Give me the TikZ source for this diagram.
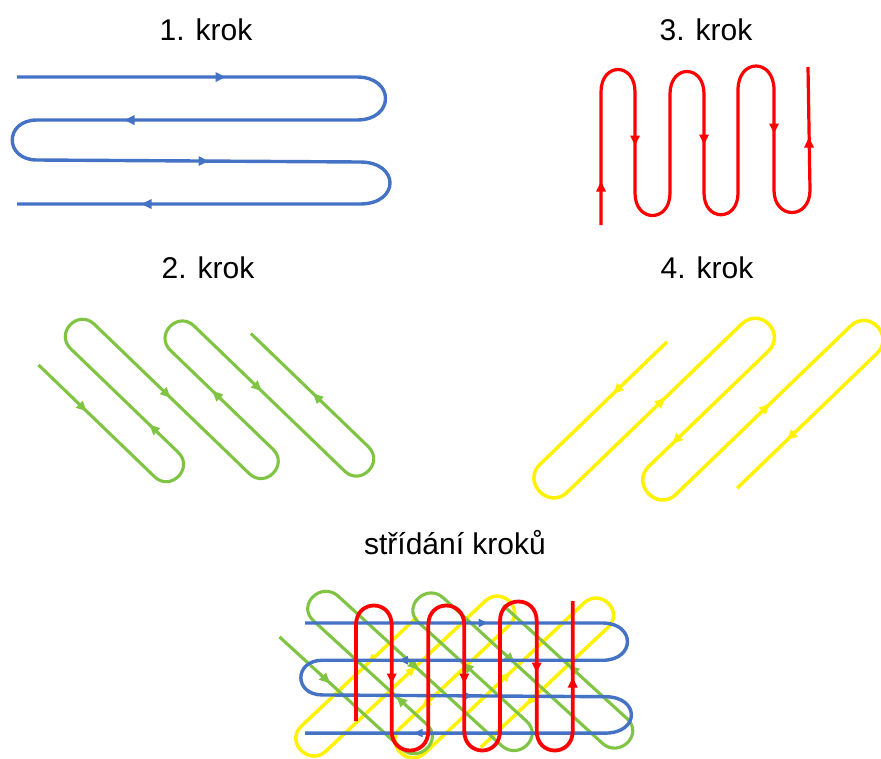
\documentclass[tikz,border=0pt]{standalone}
\usepackage{fontspec}
\setmainfont{Liberation Sans}
\definecolor{blueC}{RGB}{68,114,196}
\definecolor{greenC}{RGB}{128,196,68}
\definecolor{redC}{RGB}{255,0,0}
\definecolor{yellowC}{RGB}{255,242,0}
\tikzset{
  bluestroke/.style={draw=blueC, line width=3.4pt, line join=round},
  greenstroke/.style={draw=greenC, line width=3.1pt, line join=round},
  redstroke/.style={draw=redC, line width=3.2pt, line join=round},
  yellowstroke/.style={draw=yellowC, line width=3.5pt, line join=round},
  lbl/.style={anchor=base, inner sep=0pt, font=\fontsize{30}{36}\selectfont},
}
% small filled direction marker: colour, x, y, angle
\newcommand\arrowhead[4]{\fill[#1, shift={(#2,#3)}, rotate=#4] (5.5,0) -- (-4.5,5) -- (-4.5,-5) -- cycle;}

% step 1: horizontal meander
\newcommand\bluewave{%
  \draw[bluestroke] (17,77) -- (357,77) .. controls (395,77) and (395,120) .. (357,120)
    -- (37,120) .. controls (4,120) and (4,160) .. (37,160)
    -- (360,162) .. controls (400,162) and (400,204) .. (360,204) -- (17,204);
  \arrowhead{blueC}{220}{77}{0}
  \arrowhead{blueC}{130}{120}{180}
  \arrowhead{blueC}{203}{161}{0}
  \arrowhead{blueC}{147}{204}{180}}

% step 2: diagonal meander, drawn in a frame along the strokes
\newcommand\greenwave{%
  \begin{scope}[x={(0.72pt,-0.694pt)}, y={(-0.694pt,-0.72pt)}]
    \draw[greenstroke] (281,236) -- (442,236) .. controls (464.7,236) and (464.7,202) .. (442,202)
      -- (293,202) .. controls (270.3,202) and (270.3,168) .. (293,168)
      -- (508,168) .. controls (530.7,168) and (530.7,134) .. (508,134)
      -- (366,134) .. controls (343.3,134) and (343.3,100) .. (366,100)
      -- (575,100) .. controls (597.7,100) and (597.7,66) .. (575,66) -- (412,66);
    \arrowhead{greenC}{342}{236}{0}
    \arrowhead{greenC}{408}{202}{180}
    \arrowhead{greenC}{393}{168}{0}
    \arrowhead{greenC}{430}{134}{180}
    \arrowhead{greenC}{454}{100}{0}
    \arrowhead{greenC}{504}{66}{180}
  \end{scope}}

% step 4: the other diagonal meander
\newcommand\yellowwave{%
  \begin{scope}[x={(0.72pt,0.694pt)}, y={(0.694pt,-0.72pt)}]
    \draw[yellowstroke] (243,709) -- (66.75,709) .. controls (41,709) and (41,748) .. (66.75,748)
      -- (309,748) .. controls (335,748) and (335,786) .. (309,786)
      -- (143.5,786) .. controls (118,786) and (118,825) .. (143.5,825)
      -- (386,825) .. controls (411.5,825) and (411.5,863) .. (386,863) -- (192,863);
    \arrowhead{yellowC}{174}{709}{180}
    \arrowhead{yellowC}{197}{748}{0}
    \arrowhead{yellowC}{182}{786}{180}
    \arrowhead{yellowC}{268}{825}{0}
    \arrowhead{yellowC}{267}{863}{180}
  \end{scope}}

\begin{document}
\begin{tikzpicture}[x=1pt, y=-1pt]
  \useasboundingbox (0,0) rectangle (881,758);

  % headings
  \node[lbl] (h1) at (206,40.5) {1. krok};
  \node[lbl] (h3) at (706,40.5) {3. krok};
  \node[lbl] (h2) at (208,278) {2. krok};
  \node[lbl] (h4) at (707,278) {4. krok};
  \node[lbl] (h5) at (455,554) {střídání kroků};

  % the four single steps
  \bluewave
  \greenwave
  \yellowwave
  % step 3: vertical meander
  \draw[redstroke] (601,225) -- (601,92) .. controls (601,62) and (635,62) .. (635,92)
    -- (635,193) .. controls (635,223) and (670,223) .. (670,193)
    -- (670,94) .. controls (670,64) and (704,64) .. (704,94)
    -- (704,193) .. controls (704,222) and (738,222) .. (738,193)
    -- (738,90) .. controls (738,58) and (774,58) .. (774,90)
    -- (774,190) .. controls (774,220) and (810,220) .. (810,190) -- (808,67);
  \arrowhead{redC}{601}{187}{90}
  \arrowhead{redC}{635}{140}{-90}
  \arrowhead{redC}{704}{139}{-90}
  \arrowhead{redC}{774}{128}{-90}
  \arrowhead{redC}{809}{143}{90}

  % all steps overlaid
  \begin{scope}[shift={(295,595)}, xscale=0.91, yscale=0.89, shift={(-533,-317)}]
    \yellowwave
  \end{scope}
  \begin{scope}[shift={(280,637)}, xscale=1.054, shift={(-39,-365)}]
    \greenwave
  \end{scope}
  \begin{scope}[shift={(305,623)}, xscale=0.875, yscale=0.867, shift={(-17,-77)}]
    \bluewave
  \end{scope}
  \draw[redstroke, line width=3.8pt] (356,721) -- (356,625) .. controls (356,599) and (391.7,599) .. (391.7,625)
    -- (391.7,731) .. controls (391.7,757) and (428.3,757) .. (428.3,731)
    -- (428.3,625) .. controls (428.3,599) and (464.3,599) .. (464.3,625)
    -- (464.3,731) .. controls (464.3,757) and (500,757) .. (500,731)
    -- (500,621) .. controls (500,595) and (536.7,595) .. (536.7,621)
    -- (536.7,731) .. controls (536.7,757) and (572.7,757) .. (572.7,731) -- (572.7,601);
  \arrowhead{redC}{391.7}{678}{-90}
  \arrowhead{redC}{464.3}{678}{-90}
  \arrowhead{redC}{536.7}{667}{-90}
  \arrowhead{redC}{572.7}{683}{90}
\end{tikzpicture}
\end{document}
